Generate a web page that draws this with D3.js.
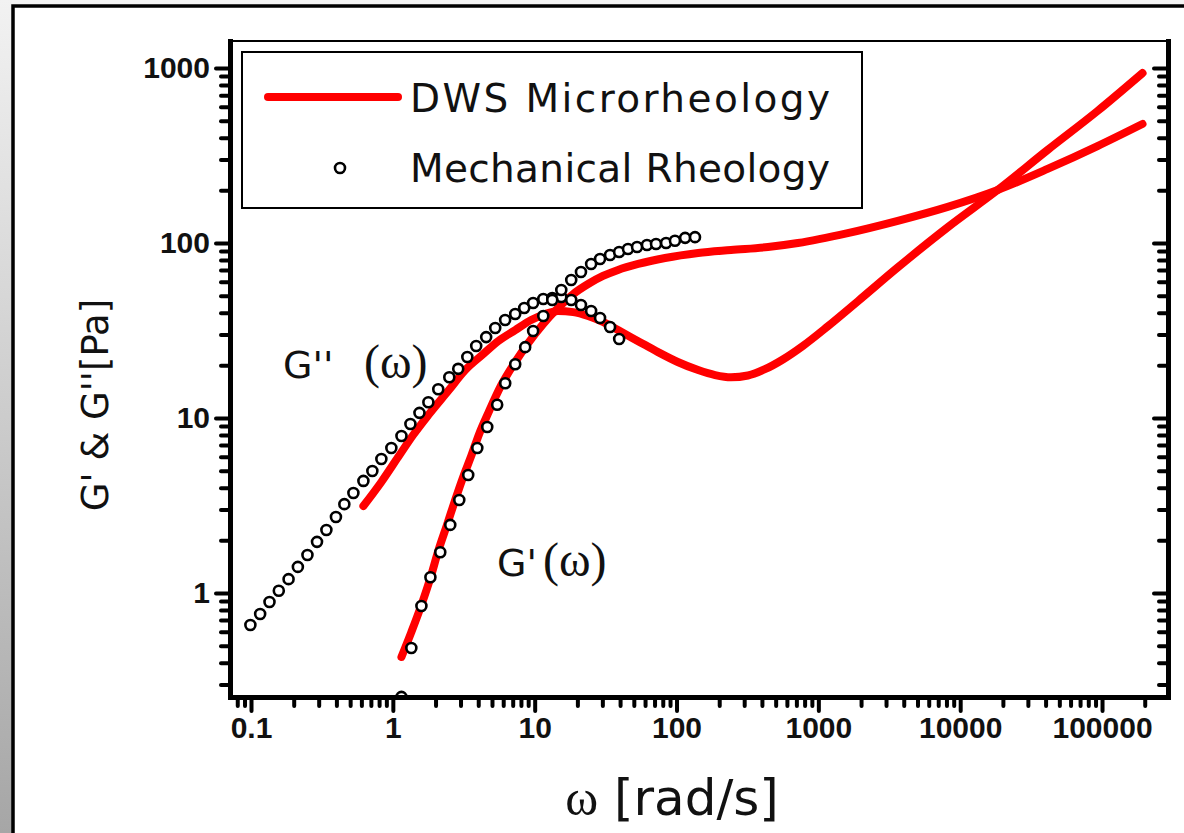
<!DOCTYPE html>
<html>
<head>
    <title>G' and G'' from DWS and mechanical rheology</title>
    <script src="https://cdn.jsdelivr.net/npm/d3@7"></script>
    <style>
        body { margin: 0; background: #fff; }
        svg { display: block; }
    </style>
</head>
<body>
    <div id="chart"></div>
    <script>
        // DWS microrheology
        const dwsLossOmega = [0.62, 0.83, 1.09, 1.39, 1.78, 2.46, 3.24, 4.34, 5.53, 7.29, 9.44, 11.9, 14.6, 18.7, 23.8, 30.3, 38.7, 53.6, 74.1, 102, 142, 187, 242, 319, 420, 562, 777, 1170, 1900, 3630, 8170, 18400, 41300, 92900, 193000];
        const dwsLoss = [3.14, 4.31, 5.98, 8.0, 10.4, 14.3, 18.8, 23.2, 27.5, 31.8, 36.3, 39.3, 40.9, 40.3, 38.3, 35.4, 31.8, 27.5, 23.8, 20.9, 18.8, 17.6, 17.1, 17.5, 19.0, 21.6, 25.8, 33.5, 46.5, 72.5, 123, 201, 340, 568, 936];
        const dwsStorageOmega = [1.15, 1.35, 1.59, 1.84, 2.09, 2.42, 2.75, 3.13, 3.57, 4.06, 4.71, 5.81, 7.29, 9.0, 11.5, 14.6, 18.7, 23.8, 30.3, 38.7, 53.6, 83.0, 142, 242, 441, 717, 1610, 3630, 8170, 18400, 41300, 92900, 193000];
        const dwsStorage = [0.431, 0.598, 0.854, 1.22, 1.74, 2.48, 3.40, 4.60, 6.07, 8.11, 10.7, 15.4, 20.9, 26.8, 34.5, 42.5, 51.1, 58.3, 64.8, 70.2, 75.9, 82.1, 87.7, 91.2, 94.9, 100, 114, 134, 161, 201, 265, 358, 479];

        // mechanical rheology, the open circles
        const mechLossOmega = [0.099, 0.116, 0.135, 0.157, 0.184, 0.214, 0.250, 0.292, 0.340, 0.397, 0.455, 0.527, 0.620, 0.717, 0.830, 0.976, 1.15, 1.33, 1.54, 1.78, 2.09, 2.50, 2.89, 3.35, 3.87, 4.55, 5.27, 6.19, 7.29, 8.44, 9.75, 11.5, 13.3, 15.4, 18.1, 21.2, 25.0, 28.9, 34.0, 39.4];
        const mechLoss = [0.656, 0.759, 0.888, 1.03, 1.20, 1.41, 1.65, 1.96, 2.29, 2.72, 3.22, 3.73, 4.37, 4.98, 5.83, 6.74, 7.89, 9.25, 10.7, 12.3, 14.6, 17.1, 19.1, 22.3, 25.8, 29.0, 32.7, 36.3, 39.3, 42.5, 45.4, 47.9, 48.5, 49.1, 47.2, 44.2, 40.9, 37.3, 33.1, 28.3];
        const mechStorageOmega = [1.15, 1.35, 1.59, 1.84, 2.16, 2.54, 2.94, 3.40, 3.94, 4.63, 5.44, 6.20, 7.29, 8.57, 9.75, 11.5, 13.3, 15.4, 18.1, 21.2, 25.0, 28.9, 34.0, 39.4, 45.5, 52.7, 61.9, 71.7, 84.4, 97.5, 115, 135];
        const mechStorage = [0.255, 0.485, 0.843, 1.23, 1.71, 2.45, 3.40, 4.72, 6.74, 8.89, 11.9, 15.8, 20.3, 25.4, 31.4, 38.3, 47.2, 53.9, 61.5, 68.3, 75.9, 81.1, 85.4, 88.9, 92.5, 94.9, 97.5, 98.7, 100, 103, 107, 108];

        const xTicks = [0.1, 1, 10, 100, 1000, 10000, 100000];
        const xTickLabels = ["0.1", "1", "10", "100", "1000", "10000", "100000"];
        const yTicks = [1, 10, 100, 1000];
        const yTickLabels = ["1", "10", "100", "1000"];
        const seriesNames = ["DWS Microrheology", "Mechanical Rheology"];

        const width = 1184, height = 833;
        const box = { left: 230, right: 1168, top: 41, bottom: 697 };
        const comic = "'DejaVu Sans', sans-serif";
        const serif = "'Liberation Serif', 'DejaVu Serif', serif";
        const tickFont = "'Liberation Sans', Arial, sans-serif";

        const svg = d3.select("#chart").append("svg")
            .attr("width", width)
            .attr("height", height);

        // page frame, grey strip on the left
        const defs = svg.append("defs");
        const grad = defs.append("linearGradient")
            .attr("id", "strip").attr("x1", 0).attr("y1", 0).attr("x2", 0).attr("y2", 1);
        grad.append("stop").attr("offset", "0%").attr("stop-color", "#f2f2f2");
        grad.append("stop").attr("offset", "100%").attr("stop-color", "#a6a6a6");
        defs.append("clipPath").attr("id", "plotClip")
            .append("rect")
            .attr("x", box.left).attr("y", box.top)
            .attr("width", box.right - box.left).attr("height", box.bottom - box.top);

        svg.append("rect").attr("width", width).attr("height", height).attr("fill", "#f4f4f4");
        svg.append("rect").attr("x", 0).attr("y", 0).attr("width", 12).attr("height", height).attr("fill", "url(#strip)");
        svg.append("rect").attr("x", 13).attr("y", 6).attr("width", width).attr("height", height)
            .attr("fill", "#fff").attr("stroke", "#000").attr("stroke-width", 3.5);

        const x = d3.scaleLog().domain([0.0711, 291800]).range([box.left, box.right]);
        const y = d3.scaleLog().domain([0.2545, 1427]).range([box.bottom, box.top]);

        const xMinor = x.ticks().filter(d => !xTicks.includes(d));
        const yMinor = y.ticks().filter(d => !yTicks.includes(d));

        function styleAxis(g, w) {
            g.select(".domain").attr("stroke-width", w).attr("stroke-linecap", "square");
            g.selectAll(".tick line").attr("stroke-width", 4).attr("stroke-linecap", "round");
            g.selectAll(".tick text")
                .attr("font-family", tickFont)
                .attr("font-weight", "bold")
                .attr("font-size", 30)
                .attr("fill", "#111");
        }

        // top frame line
        svg.append("line")
            .attr("x1", box.left).attr("x2", box.right)
            .attr("y1", box.top).attr("y2", box.top)
            .attr("stroke", "#000").attr("stroke-width", 2);

        // data
        const plot = svg.append("g").attr("clip-path", "url(#plotClip)");
        const line = d3.line()
            .x(d => x(d[0]))
            .y(d => y(d[1]))
            .curve(d3.curveMonotoneX);

        const redCurves = [
            d3.zip(dwsLossOmega, dwsLoss),
            d3.zip(dwsStorageOmega, dwsStorage)
        ];
        plot.selectAll("path.dws")
            .data(redCurves)
            .join("path")
            .attr("class", "dws")
            .attr("fill", "none")
            .attr("stroke", "#ff0000")
            .attr("stroke-width", 8)
            .attr("stroke-linecap", "round")
            .attr("d", line);

        const circles = d3.zip(mechLossOmega, mechLoss).concat(d3.zip(mechStorageOmega, mechStorage));
        plot.selectAll("circle.mech")
            .data(circles)
            .join("circle")
            .attr("class", "mech")
            .attr("cx", d => x(d[0]))
            .attr("cy", d => y(d[1]))
            .attr("r", 5)
            .attr("fill", "#fff")
            .attr("stroke", "#000")
            .attr("stroke-width", 2.6);

        // bottom axis
        const gx = svg.append("g").attr("transform", `translate(0,${box.bottom})`);
        gx.call(d3.axisBottom(x).tickValues(xTicks).tickFormat((d, i) => xTickLabels[i])
            .tickSize(14).tickSizeOuter(0).tickPadding(6));
        const gxm = svg.append("g").attr("transform", `translate(0,${box.bottom})`);
        gxm.call(d3.axisBottom(x).tickValues(xMinor).tickFormat("").tickSize(9).tickSizeOuter(0));
        styleAxis(gx, 5);
        styleAxis(gxm, 5);

        // left axis
        const gy = svg.append("g").attr("transform", `translate(${box.left},0)`);
        gy.call(d3.axisLeft(y).tickValues(yTicks).tickFormat((d, i) => yTickLabels[i])
            .tickSize(14).tickSizeOuter(0).tickPadding(6));
        const gym = svg.append("g").attr("transform", `translate(${box.left},0)`);
        gym.call(d3.axisLeft(y).tickValues(yMinor).tickFormat("").tickSize(9).tickSizeOuter(0));
        styleAxis(gy, 5);
        styleAxis(gym, 5);

        // right axis, ticks pointing into the plot
        const gr = svg.append("g").attr("transform", `translate(${box.right},0)`);
        gr.call(d3.axisLeft(y).tickValues(yTicks).tickFormat("").tickSize(14).tickSizeOuter(0));
        const grm = svg.append("g").attr("transform", `translate(${box.right},0)`);
        grm.call(d3.axisLeft(y).tickValues(yMinor).tickFormat("").tickSize(9).tickSizeOuter(0));
        styleAxis(gr, 5);
        styleAxis(grm, 5);

        // axis titles
        svg.append("text")
            .attr("transform", "translate(108,405) rotate(-90)")
            .attr("text-anchor", "middle")
            .attr("font-family", comic)
            .attr("font-size", 37)
            .attr("fill", "#111")
            .text("G' & G''[Pa]");

        const xt = svg.append("text")
            .attr("x", 672).attr("y", 815)
            .attr("text-anchor", "middle")
            .attr("font-size", 50)
            .attr("fill", "#111");
        xt.append("tspan").attr("font-family", serif).text("ω");
        xt.append("tspan").attr("font-family", "'DejaVu Sans', sans-serif").text(" [rad/s]");

        // curve annotations
        const a1 = svg.append("text").attr("y", 378).attr("fill", "#111");
        a1.append("tspan").attr("x", 283).attr("font-family", comic).attr("font-size", 38).text("G''");
        a1.append("tspan").attr("x", 364).attr("font-family", serif).attr("font-size", 48).text("(ω)");
        const a2 = svg.append("text").attr("y", 576).attr("fill", "#111");
        a2.append("tspan").attr("x", 497).attr("font-family", comic).attr("font-size", 38).text("G'");
        a2.append("tspan").attr("x", 543).attr("font-family", serif).attr("font-size", 48).text("(ω)");

        // legend
        const lg = svg.append("g");
        lg.append("rect")
            .attr("x", 242).attr("y", 52).attr("width", 620).attr("height", 156)
            .attr("fill", "#fff").attr("stroke", "#000").attr("stroke-width", 2);
        lg.append("line")
            .attr("x1", 268).attr("x2", 398).attr("y1", 97).attr("y2", 97)
            .attr("stroke", "#ff0000").attr("stroke-width", 8).attr("stroke-linecap", "round");
        lg.append("circle")
            .attr("cx", 340).attr("cy", 168).attr("r", 5)
            .attr("fill", "#fff").attr("stroke", "#000").attr("stroke-width", 2.6);
        lg.selectAll("text")
            .data(seriesNames)
            .join("text")
            .attr("x", 410)
            .attr("y", (d, i) => 112 + i * 70)
            .attr("font-family", comic)
            .attr("font-size", 39)
            .attr("textLength", 420)
            .attr("lengthAdjust", "spacing")
            .attr("fill", "#111")
            .text(d => d);
    </script>
</body>
</html>
